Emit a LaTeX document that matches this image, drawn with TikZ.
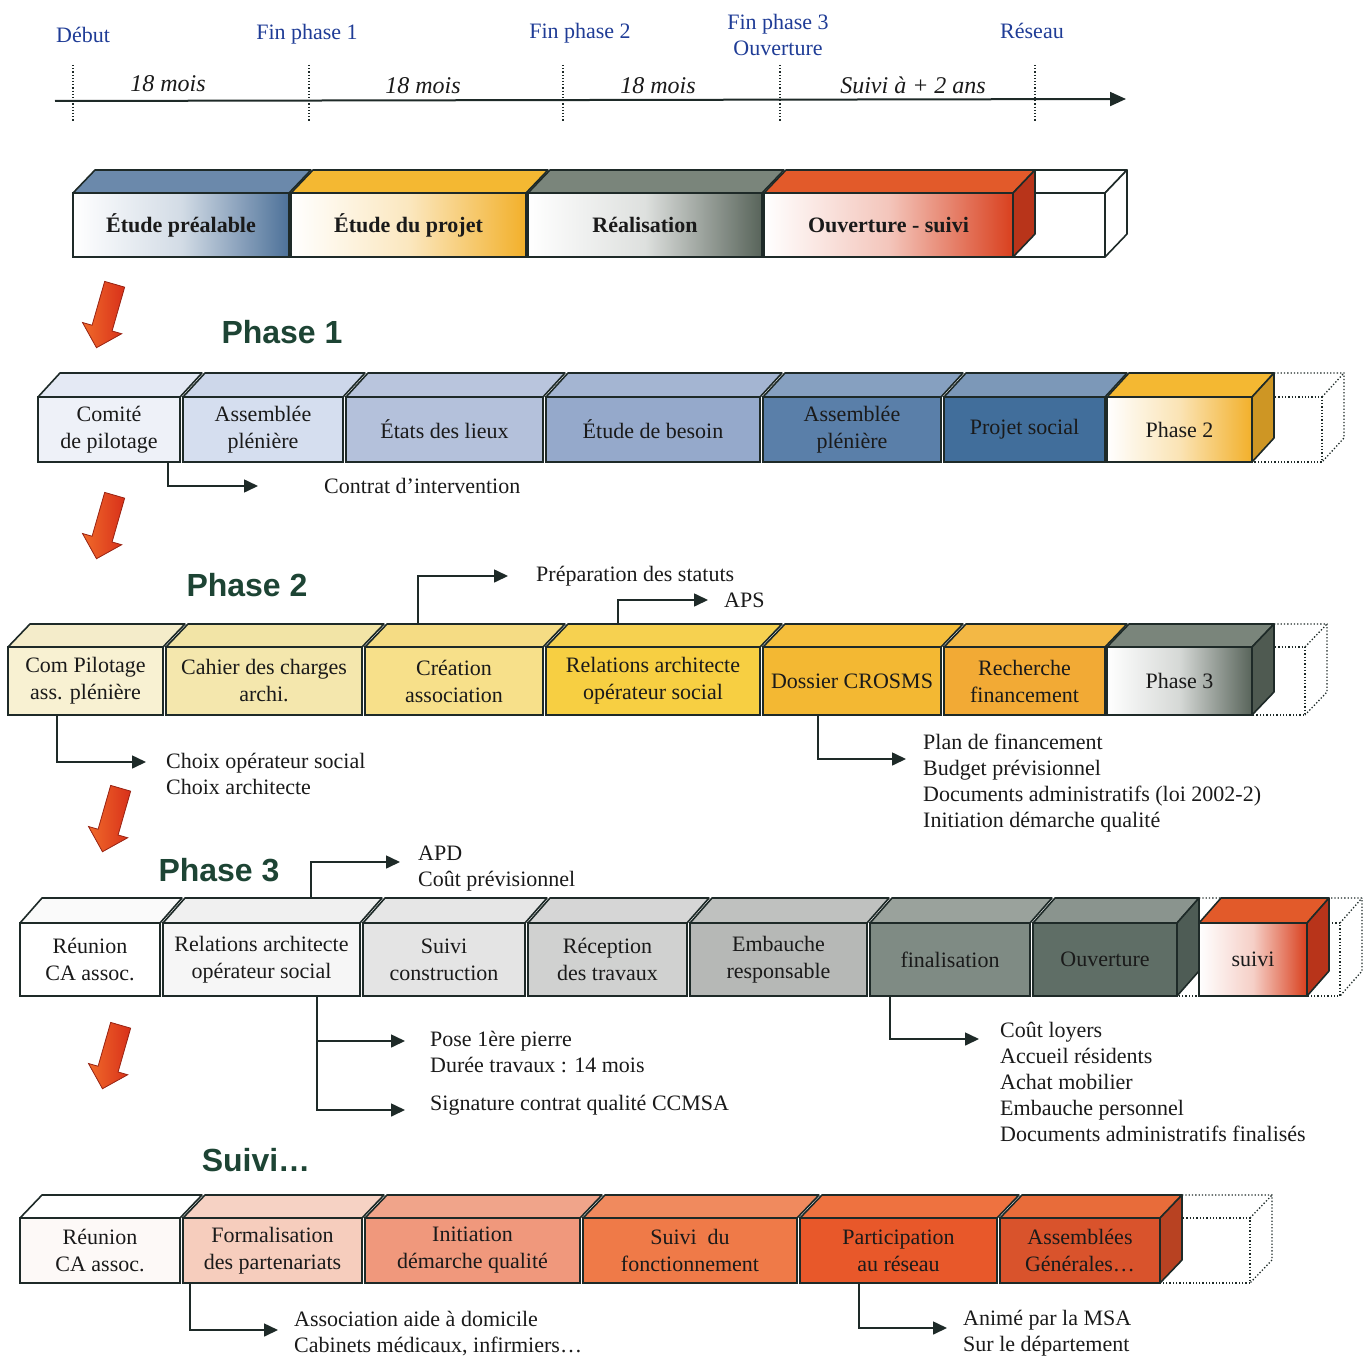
\documentclass[tikz,border=0pt]{standalone}
\usepackage{fontspec}
\setmainfont{Liberation Serif}
\setsansfont{Liberation Sans}
\usetikzlibrary{arrows.meta,shapes.arrows,positioning}

\definecolor{edge}{HTML}{1E2A28}
\definecolor{tlblue}{HTML}{1F3C96}
\definecolor{titlegreen}{HTML}{1D4434}
\definecolor{ink}{HTML}{1A1A1A}
\definecolor{redA}{HTML}{F06A2A}
\definecolor{redB}{HTML}{D8301A}
% overview bar
\definecolor{ovBlue}{HTML}{4D7199}
\definecolor{ovBlueT}{HTML}{6B89AB}
\definecolor{ovGold}{HTML}{F2B02A}
\definecolor{ovGoldT}{HTML}{F4B832}
\definecolor{ovGrey}{HTML}{58645A}
\definecolor{ovGreyT}{HTML}{7A857B}
\definecolor{ovRed}{HTML}{D9401E}
\definecolor{ovRedT}{HTML}{E25A2A}
\definecolor{ovRedS}{HTML}{B8341A}
% phase 1
\definecolor{pA}{HTML}{EEF1F8}\definecolor{pAt}{HTML}{E4E9F4}
\definecolor{pB}{HTML}{D5DEEF}\definecolor{pBt}{HTML}{CDD7EA}
\definecolor{pC}{HTML}{B4C1DB}\definecolor{pCt}{HTML}{B9C5DD}
\definecolor{pD}{HTML}{95A9CB}\definecolor{pDt}{HTML}{A4B5D2}
\definecolor{pE}{HTML}{5A7FA9}\definecolor{pEt}{HTML}{86A0C0}
\definecolor{pF}{HTML}{416E9B}\definecolor{pFt}{HTML}{7C98B8}
% phase 2
\definecolor{qA}{HTML}{F8F1D2}\definecolor{qAt}{HTML}{F4ECCA}
\definecolor{qB}{HTML}{F4E7AD}\definecolor{qBt}{HTML}{F2E4A6}
\definecolor{qC}{HTML}{F7E08A}\definecolor{qCt}{HTML}{F5DC84}
\definecolor{qD}{HTML}{F7CF42}\definecolor{qDt}{HTML}{F6D150}
\definecolor{qE}{HTML}{F3B833}\definecolor{qEt}{HTML}{F5BE3C}
\definecolor{qF}{HTML}{F2AA35}\definecolor{qFt}{HTML}{F3B845}
% phase 3
\definecolor{rA}{HTML}{FFFFFF}\definecolor{rAt}{HTML}{FAFAFA}
\definecolor{rB}{HTML}{F6F6F6}\definecolor{rBt}{HTML}{F0F0F0}
\definecolor{rC}{HTML}{E4E4E4}\definecolor{rCt}{HTML}{E6E6E6}
\definecolor{rD}{HTML}{D0D1D0}\definecolor{rDt}{HTML}{D6D6D6}
\definecolor{rE}{HTML}{B6B8B6}\definecolor{rEt}{HTML}{BFC1BF}
\definecolor{rF}{HTML}{7F8B84}\definecolor{rFt}{HTML}{9AA29C}
\definecolor{rG}{HTML}{5F6E66}\definecolor{rGt}{HTML}{8A948E}\definecolor{rGs}{HTML}{4E5C55}
% suivi
\definecolor{sA}{HTML}{FDF9F7}\definecolor{sAt}{HTML}{FFFFFF}
\definecolor{sB}{HTML}{F6CDBD}\definecolor{sBt}{HTML}{F6D2C4}
\definecolor{sC}{HTML}{F0987C}\definecolor{sCt}{HTML}{F0A48A}
\definecolor{sD}{HTML}{EF7A48}\definecolor{sDt}{HTML}{F08A5E}
\definecolor{sE}{HTML}{E8582A}\definecolor{sEt}{HTML}{EE7240}
\definecolor{sF}{HTML}{D9532C}\definecolor{sFt}{HTML}{E86C3A}\definecolor{sFs}{HTML}{B84222}

% one block of a row: x left, x right, name, front fill, top colour, text
\newcommand{\segbox}[6]{%
  \filldraw[facet, fill=#5] (#1,\yt) -- ++(\dx,-\dy) -- ({#2+\dx},{\yt-\dy}) -- (#2,\yt) -- cycle;
  \node[box, #4, minimum width={#2-#1}, minimum height={\yb-\yt}] (#3) at ({(#1+#2)/2},{(\yt+\yb)/2}) {#6};
}
% right face of the last block
\newcommand{\sideface}[2]{%
  \filldraw[facet, fill=#2] (#1.north east) -- ++(\dx,-\dy) -- ([shift={(\dx,-\dy)}]#1.south east) -- (#1.south east) -- cycle;
}
% empty dotted block at the end of a row
\newcommand{\ghostbox}[2]{%
  \draw[ghost] (#1,\yt) -- (#2,\yt) -- (#2,\yb) -- (#1,\yb);
  \draw[ghost] ({#1+\dx},{\yt-\dy}) -- ({#2+\dx},{\yt-\dy}) -- ({#2+\dx},{\yb-\dy}) -- (#2,\yb);
  \draw[ghost] (#2,\yt) -- ({#2+\dx},{\yt-\dy});
}

\begin{document}
\begin{tikzpicture}[x=1pt,y=-1pt]
\tikzset{
  box/.style={draw=edge, line width=1.6pt, inner sep=0pt, outer sep=0pt, align=center, text=ink, font=\fontsize{22}{27}\selectfont},
  facet/.style={draw=edge, line width=1.6pt, line join=round},
  ghost/.style={draw=edge, line width=1.3pt, dotted},
  conn/.style={draw=edge, line width=1.6pt, -{Triangle[length=14pt,width=13pt]}},
  note/.style={inner sep=0pt, align=left, anchor=north west, text=ink, font=\fontsize{22}{26}\selectfont},
  milestone/.style={text=tlblue, align=center, font=\fontsize{22}{26}\selectfont},
  duree/.style={text=ink, font=\itshape\fontsize{24}{28}\selectfont},
  phasetitle/.style={text=titlegreen, font=\sffamily\bfseries\fontsize{32}{36}\selectfont},
  redarrow/.style={single arrow, draw=redB!70!black, line width=0.8pt, left color=redA, right color=redB, inner sep=10pt, minimum height=66pt, single arrow head extend=10pt, single arrow head indent=0pt, rotate=-106},
  axis/.style={draw=edge, line width=2pt, -{Triangle[length=16pt,width=14pt]}},
  tick/.style={draw=edge, line width=1.2pt, dotted}
}
\useasboundingbox (0,0) rectangle (1370,1359);

% time line
\node[milestone] (deb) at (83,35) {Début};
\node[milestone] (fp1) at (307,34) {Fin phase 1};
\node[milestone] (fp2) at (580,33) {Fin phase 2};
\node[milestone] (fp3) at (778,35) {Fin phase 3\\Ouverture};
\node[milestone] (res) at (1032,31) {Réseau};
\coordinate (ax0) at (55,101);
\coordinate (ax1) at (1126,99);
\draw[axis] (ax0) -- (ax1);
\foreach \x in {73,309,563,780,1035}
  \draw[tick] (\x,65) -- (\x,121);
\node[duree] (d1) at (168,84) {18 mois};
\node[duree] (d2) at (423,86) {18 mois};
\node[duree] (d3) at (658,86) {18 mois};
\node[duree] (d4) at (913,85) {Suivi à + 2 ans};

% overview bar
\def\yt{193}\def\yb{257}\def\dx{22}\def\dy{23}
\filldraw[facet, fill=white] (1013,\yt) rectangle (1105,\yb);
\filldraw[facet, fill=white] (1013,\yt) -- (1035,170) -- (1127,170) -- (1105,\yt) -- cycle;
\filldraw[facet, fill=white] (1105,\yt) -- (1127,170) -- (1127,234) -- (1105,\yb) -- cycle;
\segbox{73}{289}{ovet}{left color=white, right color=ovBlue, middle color=ovBlue!25!white}{ovBlueT}{\bfseries Étude préalable}
\segbox{291}{526}{ovpr}{left color=white, right color=ovGold, middle color=ovGold!30!white}{ovGoldT}{\bfseries Étude du projet}
\segbox{528}{762}{ovre}{left color=white, right color=ovGrey, middle color=ovGrey!20!white}{ovGreyT}{\bfseries Réalisation}
\segbox{764}{1013}{ovou}{left color=white, right color=ovRed, middle color=ovRed!30!white}{ovRedT}{\bfseries Ouverture - suivi}
\sideface{ovou}{ovRedS}

% phase 1
\node[redarrow] (ar1) at (107,311) {};
\node[phasetitle] (ph1) at (282,332) {Phase 1};
\def\yt{397}\def\yb{462}\def\dx{22}\def\dy{24}
\ghostbox{1252}{1322}
\segbox{38}{180}{pcom}{fill=pA}{pAt}{Comité\\de pilotage}
\segbox{183}{343}{pass}{fill=pB}{pBt}{Assemblée\\plénière}
\segbox{346}{543}{peta}{fill=pC}{pCt}{États des lieux}
\segbox{546}{760}{pbes}{fill=pD}{pDt}{Étude de besoin}
\segbox{763}{941}{pas2}{fill=pE}{pEt}{Assemblée\\plénière}
\segbox{944}{1105}{ppro}{fill=pF}{pFt}{Projet social}
\segbox{1107}{1252}{pnxt}{left color=white, right color=ovGold, middle color=ovGold!35!white}{ovGoldT}{Phase 2}
\sideface{pnxt}{ovGold!85!black}
\node[note, anchor=west] (ncon) at (324,486) {Contrat d’intervention};
\draw[conn] ([xshift=59]pcom.south) |- ([xshift=-66]ncon.west);

% phase 2
\node[redarrow] (ar2) at (107,522) {};
\node[phasetitle] (ph2) at (247,585) {Phase 2};
\def\yt{647}\def\yb{715}\def\dx{22}\def\dy{23}
\ghostbox{1252}{1305}
\segbox{8}{163}{qcom}{fill=qA}{qAt}{Com Pilotage\\ass. plénière}
\segbox{166}{362}{qcah}{fill=qB}{qBt}{Cahier des charges\\archi.}
\segbox{365}{543}{qcre}{fill=qC}{qCt}{Création\\association}
\segbox{546}{760}{qrel}{fill=qD}{qDt}{Relations architecte\\opérateur social}
\segbox{763}{941}{qdos}{fill=qE}{qEt}{Dossier CROSMS}
\segbox{944}{1105}{qrec}{fill=qF}{qFt}{Recherche\\financement}
\segbox{1107}{1252}{qnxt}{left color=white, right color=ovGrey, middle color=ovGrey!25!white}{ovGreyT}{Phase 3}
\sideface{qnxt}{ovGrey!90!black}
\node[note, anchor=west] (nprep) at (536,576) {Préparation des statuts};
\node[note, anchor=west] (naps) at (724,600) {APS};
\node[note] (nchoix) at (166,753) {Choix opérateur social\\Choix architecte};
\node[note] (nplan) at (923,734) {Plan de financement\\Budget prévisionnel\\Documents administratifs (loi 2002-2)\\Initiation démarche qualité};
\draw[conn] ([xshift=-36,yshift=23]qcre.north) |- ([xshift=-28]nprep.west);
\draw[conn] ([xshift=-35,yshift=23]qrel.north) |- ([xshift=-16]naps.west);
\draw[conn] ([xshift=-28.5]qcom.south) |- ([xshift=-20,yshift=-9]nchoix.north west);
\draw[conn] ([xshift=-34]qdos.south) |- ([xshift=-17,yshift=-25]nplan.north west);

% phase 3
\node[redarrow] (ar3) at (113,815) {};
\node[phasetitle] (ph3) at (219,870) {Phase 3};
\def\yt{923}\def\yb{996}\def\dx{22}\def\dy{25}
\ghostbox{1177}{1340}
\segbox{20}{160}{rreu}{fill=rA}{rAt}{Réunion\\CA assoc.}
\segbox{163}{360}{rrel}{fill=rB}{rBt}{Relations architecte\\opérateur social}
\segbox{363}{525}{rcon}{fill=rC}{rCt}{Suivi\\construction}
\segbox{528}{687}{rrec}{fill=rD}{rDt}{Réception\\des travaux}
\segbox{690}{867}{remb}{fill=rE}{rEt}{Embauche\\responsable}
\segbox{870}{1030}{rfin}{fill=rF}{rFt}{finalisation}
\segbox{1033}{1177}{rouv}{fill=rG}{rGt}{Ouverture}
\sideface{rouv}{rGs}
\segbox{1199}{1307}{rsui}{left color=white, right color=ovRed, middle color=ovRed!25!white}{ovRedT}{suivi}
\sideface{rsui}{ovRedS}
\node[note] (napd) at (418,846) {APD\\Coût prévisionnel};
\node[note] (npose) at (430,1031) {Pose 1ère pierre\\Durée travaux : 14 mois};
\node[note, anchor=west] (nsig) at (430,1105) {Signature contrat qualité CCMSA};
\node[note] (ncout) at (1000,1022) {Coût loyers\\Accueil résidents\\Achat mobilier\\Embauche personnel\\Documents administratifs finalisés};
\draw[conn] ([xshift=49.5,yshift=25]rrel.north) |- ([xshift=-18,yshift=-16]napd.north west);
\draw[conn] ([xshift=55.5]rrel.south) |- ([xshift=-25,yshift=-10]npose.north west);
\draw[conn] ([xshift=55.5]rrel.south) |- ([xshift=-25,yshift=-5]nsig.west);
\draw[conn] ([xshift=-60]rfin.south) |- ([xshift=-21,yshift=-17]ncout.north west);

% suivi
\node[redarrow] (ar4) at (113,1052) {};
\node[phasetitle] (ph4) at (256,1160) {Suivi\ldots};
\def\yt{1218}\def\yb{1283}\def\dx{22}\def\dy{23}
\ghostbox{1160}{1250}
\segbox{20}{180}{sreu}{fill=sA}{sAt}{Réunion\\CA assoc.}
\segbox{183}{362}{sfor}{fill=sB}{sBt}{Formalisation\\des partenariats}
\segbox{365}{580}{sini}{fill=sC}{sCt}{Initiation\\démarche qualité}
\segbox{583}{797}{sfon}{fill=sD}{sDt}{Suivi\ \ du\\fonctionnement}
\segbox{800}{997}{spar}{fill=sE}{sEt}{Participation\\au réseau}
\segbox{1000}{1160}{sass}{fill=sF}{sFt}{Assemblées\\Générales\ldots}
\sideface{sass}{sFs}
\node[note] (nasso) at (294,1311) {Association aide à domicile\\Cabinets médicaux, infirmiers\ldots};
\node[note] (nmsa) at (963,1310) {Animé par la MSA\\Sur le département};
\draw[conn] ([xshift=-82.5]sfor.south) |- ([xshift=-16,yshift=-19]nasso.north west);
\draw[conn] ([xshift=-39.5]spar.south) |- ([xshift=-16,yshift=-18]nmsa.north west);

\end{tikzpicture}
\end{document}
